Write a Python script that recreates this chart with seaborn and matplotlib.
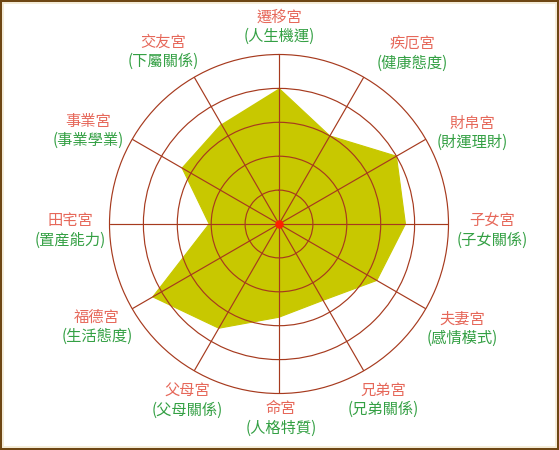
import numpy as np
import pandas as pd
import matplotlib
matplotlib.use('Agg')
import matplotlib.pyplot as plt
import seaborn as sns
from matplotlib.patches import Rectangle

# palaces clockwise from the top
palaces = ['遷移宮', '疾厄宮', '財帛宮', '子女宮', '夫妻宮', '兄弟宮',
           '命宮', '父母宮', '福德宮', '田宅宮', '事業宮', '交友宮']
meanings = ['(人生機運)', '(健康態度)', '(財運理財)', '(子女關係)', '(感情模式)', '(兄弟關係)',
            '(人格特質)', '(父母關係)', '(生活態度)', '(置産能力)', '(事業學業)', '(下屬關係)']
scores = [4.0, 3.0, 4.0, 3.73, 3.33, 2.6, 2.75, 3.55, 4.3, 2.06, 3.3, 3.4]

# label centres in pixels (x, y of first line) - layout only
label_pos = [(279, 17), (412, 44), (472, 123), (492, 221), (462, 319), (383, 390),
             (281, 409), (187, 391), (97, 317), (70, 221), (88, 121), (163, 42)]

W, H = 559, 450
line_col = '#a63a1e'
fill_col = '#c8c800'
red_txt = '#e6685a'
green_txt = '#34a044'

sns.set_style('white')
plt.rcParams['font.family'] = ['Noto Sans CJK TC', 'DejaVu Sans']

fig = plt.figure(figsize=(W / 100, H / 100), dpi=100)
fig.patch.set_facecolor('white')

cx, cy, rad = 279, 224, 169.5
ax = fig.add_axes([(cx - rad) / W, (H - cy - rad) / H, 2 * rad / W, 2 * rad / H],
                  projection='polar')
ax.set_theta_offset(np.pi / 2)
ax.set_theta_direction(-1)

n = len(palaces)
theta = np.linspace(0, 2 * np.pi, n, endpoint=False)
df = pd.DataFrame({'theta': np.append(theta, theta[0]),
                   'score': scores + scores[:1]})

ax.fill(df['theta'], df['score'], color=fill_col, lw=0, zorder=1)
sns.lineplot(data=df, x='theta', y='score', sort=False, color=fill_col,
             lw=0.8, ax=ax, zorder=1.2)
ax.scatter([0], [0], s=26, color='#ff2000', zorder=4)

ax.set_ylim(0, 5)
ax.set_rgrids([1, 2, 3, 4], labels=[''] * 4)
ax.set_thetagrids(np.degrees(theta), labels=[''] * n)
ax.set_axisbelow(False)
ax.grid(True, color=line_col, lw=0.85)
ax.spines['polar'].set_color(line_col)
ax.spines['polar'].set_linewidth(0.85)
ax.set_xlabel('')
ax.set_ylabel('')
ax.set_facecolor('white')

for name, desc, (px, py) in zip(palaces, meanings, label_pos):
    fig.text(px / W, 1 - py / H, name, color=red_txt, fontsize=11,
             ha='center', va='center')
    fig.text(px / W, 1 - (py + 19.5) / H, desc, color=green_txt, fontsize=11,
             ha='center', va='center')

# frame
fig.patches.append(Rectangle((0, 0), 1, 1, transform=fig.transFigure, fill=False,
                             edgecolor='#6e4614', lw=3))
fig.patches.append(Rectangle((3 / W, 3 / H), 1 - 6 / W, 1 - 6 / H,
                             transform=fig.transFigure, fill=False,
                             edgecolor='#f3ead2', lw=1.2))

fig.savefig('out.png', dpi=100)
